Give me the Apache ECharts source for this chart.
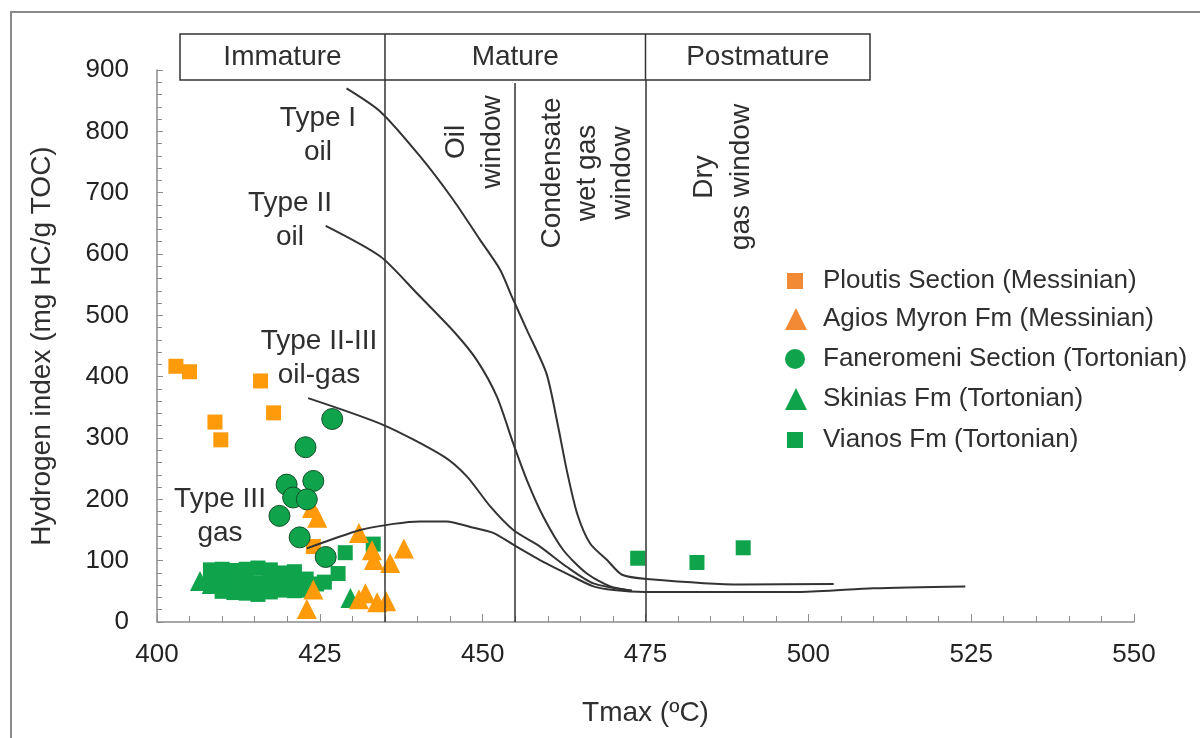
<!DOCTYPE html>
<html><head><meta charset="utf-8">
<script src="https://cdn.jsdelivr.net/npm/echarts@6/dist/echarts.min.js"></script>
<style>html,body{margin:0;padding:0;background:#fff}#c{width:1200px;height:738px}</style>
</head><body><div id="c"></div>
<script>
// ---- axis ticks ----
const xTicks = [400, 425, 450, 475, 500, 525, 550];
const yTicks = [0, 100, 200, 300, 400, 500, 600, 700, 800, 900];

// ---- sample data: [Tmax, HI] ----
const ploutis = [[402.9,417],[405,408],[415.9,393],[408.9,326],[409.8,297],[417.9,341],[424,123]];
const agiosMyron = [[423.8,186],[424.6,170],[431,145],[433,117],[433.3,101],[435.8,96],[437.9,120],
  [424,53],[423,21],[432,47],[431,37],[433.8,32],[435.2,34]];
const faneromeni = [[426.9,331],[422.8,285],[419.9,224],[424,230],[420.9,203],[423,200],[418.8,173],[421.9,138],[425.9,106]];
const skinias = [[406.6,67],[408.4,62],[429.7,39]];
const vianos = [
  [408.2,85],[410,86],[411.8,84],[413.7,86],[415.5,88],[417.4,85],[419.5,80],[421.1,82],
  [408.2,66],[410,64],[411.8,66],[413.7,65],[415.5,64],[417.4,66],[419.2,65],[421.1,66],[422.9,70],[424.5,62],[425.7,65],
  [410,50],[411.8,48],[413.7,47],[415.5,45],[417.4,49],[419.2,52],[421.1,51],[422.9,52],
  [428.9,113],[427.8,79],[433.2,127],[473.8,104],[482.9,97],[490,121]];

// ---- kerogen type curves ----
const typeI = [[429.1,870],[434.3,832],[440.4,759],[445.5,688],[449.6,623],[452.7,574],[454.5,530],[456.8,476],
  [459.8,405],[461.6,318],[462.9,248],[464.5,177],[466.5,128],[469.1,101],[471.4,77],[475.2,70],[489.6,61],[503.9,62]];
const typeII = [[425.9,646],[434.3,596],[439.9,536],[445.7,472],[449.1,427],[452.2,367],[454.7,291],[456.8,231],
  [459.3,172],[462.4,117],[466,79],[469.6,58],[472.9,51]];
const typeII_III = [[423.2,365],[434.8,321],[444,270],[447.6,237],[451.2,188],[454.7,150],[458.8,123],[462.9,90],[467,63],[472.9,51]];
const typeIII = [[423,120],[431.2,150],[436.3,160],[440.4,164],[444.5,164],[448.1,155],[451.7,145],[454.7,126],
  [458.8,101],[462.9,79],[467,58],[470.1,52],[475,49],[498.8,49],[510,55],[524.1,58]];

// ---- boundaries ----
const maturityBounds = [435, 475];
const oilWindowEnd = 455;

const names = ['Ploutis Section (Messinian)','Agios Myron Fm (Messinian)','Faneromeni Section (Tortonian)','Skinias Fm (Tortonian)','Vianos Fm (Tortonian)'];
const ORANGE = '#FF9A0A', GREEN = '#0FA34B';
const FONT = '"Liberation Sans", Arial, sans-serif';
const TXT = '#2f2f2f';

const chart = echarts.init(document.getElementById('c'), null, {renderer:'canvas'});

function legendItem(i, top, left, w, h, icon, color, pad) {
  return {
    data: [{name: names[i], icon: icon, itemStyle: {color: color, borderWidth: 0}}],
    top: top, left: left, itemWidth: w, itemHeight: h, padding: 0,
    selectedMode: false,
    textStyle: {fontSize: 26, color: TXT, fontFamily: FONT, padding: [0,0,0,pad]}
  };
}

const curveStyle = {type:'line', smooth:0.25, symbol:'none', silent:true, z:5,
  lineStyle:{color:'#333', width:2}};

chart.setOption({
  animation: false,
  grid: {left:157, right:66, top:70, bottom:116},
  xAxis: {
    type:'value', min:xTicks[0], max:xTicks[xTicks.length-1], interval:xTicks[1]-xTicks[0],
    axisLine:{show:true, onZero:false, lineStyle:{color:'#8c8c8c', width:1.5}},
    axisTick:{show:true, inside:true, length:8, lineStyle:{color:'#8c8c8c'}},
    minorTick:{show:true, splitNumber:5, length:6, lineStyle:{color:'#8c8c8c'}},
    splitLine:{show:false},
    axisLabel:{fontSize:26, color:'#222', margin:20, fontFamily:FONT},
    name:'Tmax (ºC)', nameLocation:'middle', nameGap:77,
    nameTextStyle:{fontSize:28, color:TXT, fontFamily:FONT}
  },
  yAxis: {
    type:'value', min:yTicks[0], max:yTicks[yTicks.length-1], interval:yTicks[1]-yTicks[0],
    axisLine:{show:true, onZero:false, lineStyle:{color:'#8c8c8c', width:1.5}},
    axisTick:{show:true, inside:true, length:6, lineStyle:{color:'#8c8c8c'}},
    minorTick:{show:true, splitNumber:5, length:5, lineStyle:{color:'#8c8c8c'}},
    splitLine:{show:false},
    axisLabel:{fontSize:26, color:'#222', margin:28, fontFamily:FONT},
    name:'Hydrogen index (mg HC/g TOC)', nameLocation:'middle', nameGap:101,
    nameTextStyle:{fontSize:28, color:TXT, fontFamily:FONT}
  },
  legend: [
    legendItem(0, 268, 787, 16, 16, 'rect', '#F28A35', 15),
    legendItem(1, 306, 785, 22, 22, 'triangle', '#F28A35', 11),
    legendItem(2, 346, 785, 20, 20, 'circle', GREEN, 13),
    legendItem(3, 386, 785, 22, 22, 'triangle', GREEN, 11),
    legendItem(4, 427, 787, 16, 16, 'rect', GREEN, 15)
  ],
  series: [
    {name:names[4], type:'scatter', data:vianos, symbol:'rect', symbolSize:15, z:2,
      itemStyle:{color:GREEN, opacity:1}},
    {name:names[3], type:'scatter', data:skinias, symbol:'triangle', symbolSize:20, z:2,
      itemStyle:{color:GREEN, opacity:1}},
    {name:names[0], type:'scatter', data:ploutis, symbol:'rect', symbolSize:15, z:3,
      itemStyle:{color:ORANGE, opacity:1}},
    {name:names[1], type:'scatter', data:agiosMyron, symbol:'triangle', symbolSize:20, z:3,
      itemStyle:{color:ORANGE, opacity:1}},
    {name:names[2], type:'scatter', data:faneromeni, symbol:'circle', symbolSize:21, z:4,
      itemStyle:{color:GREEN, borderColor:'#14502b', borderWidth:1, opacity:1}},
    Object.assign({name:'Type I', data:typeI}, curveStyle),
    Object.assign({name:'Type II', data:typeII}, curveStyle),
    Object.assign({name:'Type II-III', data:typeII_III}, curveStyle),
    Object.assign({name:'Type III', data:typeIII}, curveStyle,
      {markLine:{silent:true, symbol:'none', label:{show:false},
        lineStyle:{color:'#333', width:1.5, type:'solid'},
        data:[
          {xAxis: maturityBounds[0]},
          {xAxis: maturityBounds[1]},
          [{coord:[oilWindowEnd, 0]}, {coord:[oilWindowEnd, 879]}]
        ]}})
  ]
});

// ---- decorations (box, annotations) ----
const px = (x, y) => chart.convertToPixel({gridIndex:0}, [x, y]);
const bx0 = 180, bx1 = 870, by0 = 34, by1 = 80;
const d1 = px(maturityBounds[0], 0)[0], d2 = px(maturityBounds[1], 0)[0];

function txt(t, x, y, rot, lh) {
  return {type:'text', x:x, y:y, rotation:rot||0, z:20, silent:true,
    style:{text:t, x:0, y:0, align:'center', verticalAlign:'middle', fill:TXT,
      font:'28px ' + FONT, lineHeight: lh || 34}};
}
const R = Math.PI / 2;
chart.setOption({
  graphic: [
    {type:'rect', shape:{x:11, y:12, width:1300, height:800}, style:{fill:'none', stroke:'#8a8a8a', lineWidth:2}, silent:true, z:1},
    {type:'rect', shape:{x:bx0, y:by0, width:bx1-bx0, height:by1-by0}, style:{fill:'#fff', stroke:'#333', lineWidth:1.5}, silent:true, z:10},
    {type:'line', shape:{x1:d1, y1:by0, x2:d1, y2:by1}, style:{stroke:'#333', lineWidth:1.5}, silent:true, z:11},
    {type:'line', shape:{x1:d2, y1:by0, x2:d2, y2:by1}, style:{stroke:'#333', lineWidth:1.5}, silent:true, z:11},
    txt('Immature', (bx0+d1)/2, 57),
    txt('Mature', (d1+d2)/2, 57),
    txt('Postmature', (d2+bx1)/2, 57),
    txt('Type I\noil', 318, 135),
    txt('Type II\noil', 290, 220),
    txt('Type II-III\noil-gas', 319, 358),
    txt('Type III\ngas', 220, 516),
    txt('Oil\nwindow', 474, 142, R, 36),
    txt('Condensate\nwet gas\nwindow', 587, 173, R, 35),
    txt('Dry\ngas window', 723, 177, R, 37)
  ]
});
</script>
</body></html>
